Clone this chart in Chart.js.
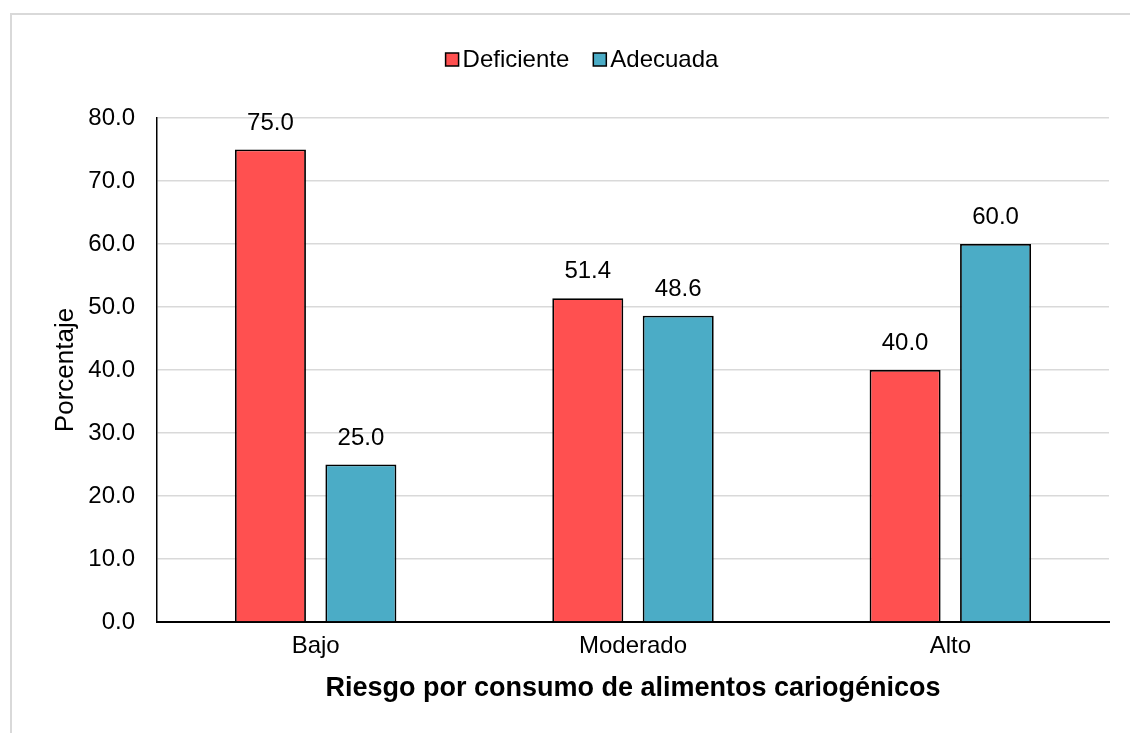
<!DOCTYPE html>
<html><head><meta charset="utf-8">
<script src="https://cdn.jsdelivr.net/npm/chart.js@4.4.0/dist/chart.umd.min.js"></script>
<style>html,body{margin:0;padding:0;background:#fff;} #wrap{width:1130px;height:733px;position:relative;}</style>
</head><body><div id="wrap"><canvas id="c" width="1130" height="733"></canvas></div>
<script>
const categories = ['Bajo', 'Moderado', 'Alto'];
const deficiente = [75.0, 51.4, 40.0];
const adecuada = [25.0, 48.6, 60.0];
const seriesNames = ['Deficiente', 'Adecuada'];
const seriesColors = ['#FF5050', '#4BACC6'];
const yTicks = [0, 10, 20, 30, 40, 50, 60, 70, 80];
const yTitle = 'Porcentaje';
const xTitle = 'Riesgo por consumo de alimentos cariogénicos';

const FONT = '"Liberation Sans", Arial, sans-serif';

const framePlugin = {
  id: 'frame',
  beforeDraw(chart) {
    const ctx = chart.ctx;
    ctx.save();
    ctx.fillStyle = '#fff';
    ctx.fillRect(0, 0, chart.width, chart.height);
    ctx.strokeStyle = '#d9d9d9';
    ctx.lineWidth = 2;
    ctx.strokeRect(11, 14, chart.width + 20, chart.height + 20);
    ctx.restore();
  }
};

const valueLabels = {
  id: 'valueLabels',
  afterDatasetsDraw(chart) {
    const ctx = chart.ctx;
    ctx.save();
    ctx.font = '24px ' + FONT;
    ctx.fillStyle = '#000';
    ctx.textAlign = 'center';
    ctx.textBaseline = 'alphabetic';
    chart.data.datasets.forEach((ds, i) => {
      const meta = chart.getDatasetMeta(i);
      meta.data.forEach((el, j) => {
        ctx.fillText(ds.data[j].toFixed(1), el.x, el.y - 20);
      });
    });
    ctx.restore();
  }
};

const customLegend = {
  id: 'customLegend',
  afterDraw(chart) {
    const ctx = chart.ctx;
    ctx.save();
    ctx.font = '24px ' + FONT;
    const box = 13, gapText = 4, gapItem = 24;
    const items = chart.data.datasets.map(d => ({ text: d.label, color: d.backgroundColor }));
    let total = 0;
    items.forEach((it, i) => {
      it.w = ctx.measureText(it.text).width;
      total += box + gapText + it.w + (i ? gapItem : 0);
    });
    let x = 582 - total / 2;
    const cy = 59.5;
    items.forEach((it, i) => {
      if (i) x += gapItem;
      ctx.fillStyle = it.color;
      ctx.fillRect(x, cy - box / 2, box, box);
      ctx.strokeStyle = '#000';
      ctx.lineWidth = 1.5;
      ctx.strokeRect(x, cy - box / 2, box, box);
      x += box + gapText;
      ctx.fillStyle = '#000';
      ctx.textAlign = 'left';
      ctx.textBaseline = 'alphabetic';
      ctx.fillText(it.text, x, 67);
      x += it.w;
    });
    ctx.restore();
  }
};

new Chart(document.getElementById('c'), {
  type: 'bar',
  data: {
    labels: categories,
    datasets: [
      { label: seriesNames[0], data: deficiente, backgroundColor: seriesColors[0], borderColor: '#000', borderWidth: 1.8 },
      { label: seriesNames[1], data: adecuada, backgroundColor: seriesColors[1], borderColor: '#000', borderWidth: 1.8 }
    ]
  },
  options: {
    responsive: false,
    animation: false,
    devicePixelRatio: 1,
    datasets: { bar: { categoryPercentage: 0.57, barPercentage: 0.785 } },
    layout: { padding: { top: 118, right: 21, left: 0, bottom: 0 } },
    plugins: { legend: { display: false }, tooltip: { enabled: false } },
    scales: {
      x: {
        grid: { display: false, drawTicks: false },
        border: { display: true, color: '#000', width: 2 },
        ticks: { color: '#000', font: { size: 24, family: FONT }, padding: 10 },
        title: { display: true, text: xTitle, color: '#000', font: { size: 27, weight: 'bold', family: FONT }, padding: { top: 0, bottom: 28 } },
        afterFit(s) { s.height = 111; }
      },
      y: {
        min: 0, max: 80,
        afterBuildTicks(s) { s.ticks = yTicks.map(v => ({ value: v })); },
        grid: { color: '#d9d9d9', lineWidth: 1.5, drawTicks: false },
        border: { display: true, color: '#000', width: 1.5 },
        ticks: { color: '#000', font: { size: 24, family: FONT }, padding: 22, callback: v => Number(v).toFixed(1) },
        title: { display: true, text: yTitle, color: '#000', font: { size: 26, family: FONT }, padding: { top: 50, bottom: 0 } },
        afterFit(s) { s.width = 157; }
      }
    }
  },
  plugins: [framePlugin, valueLabels, customLegend]
});
</script>
</body></html>
